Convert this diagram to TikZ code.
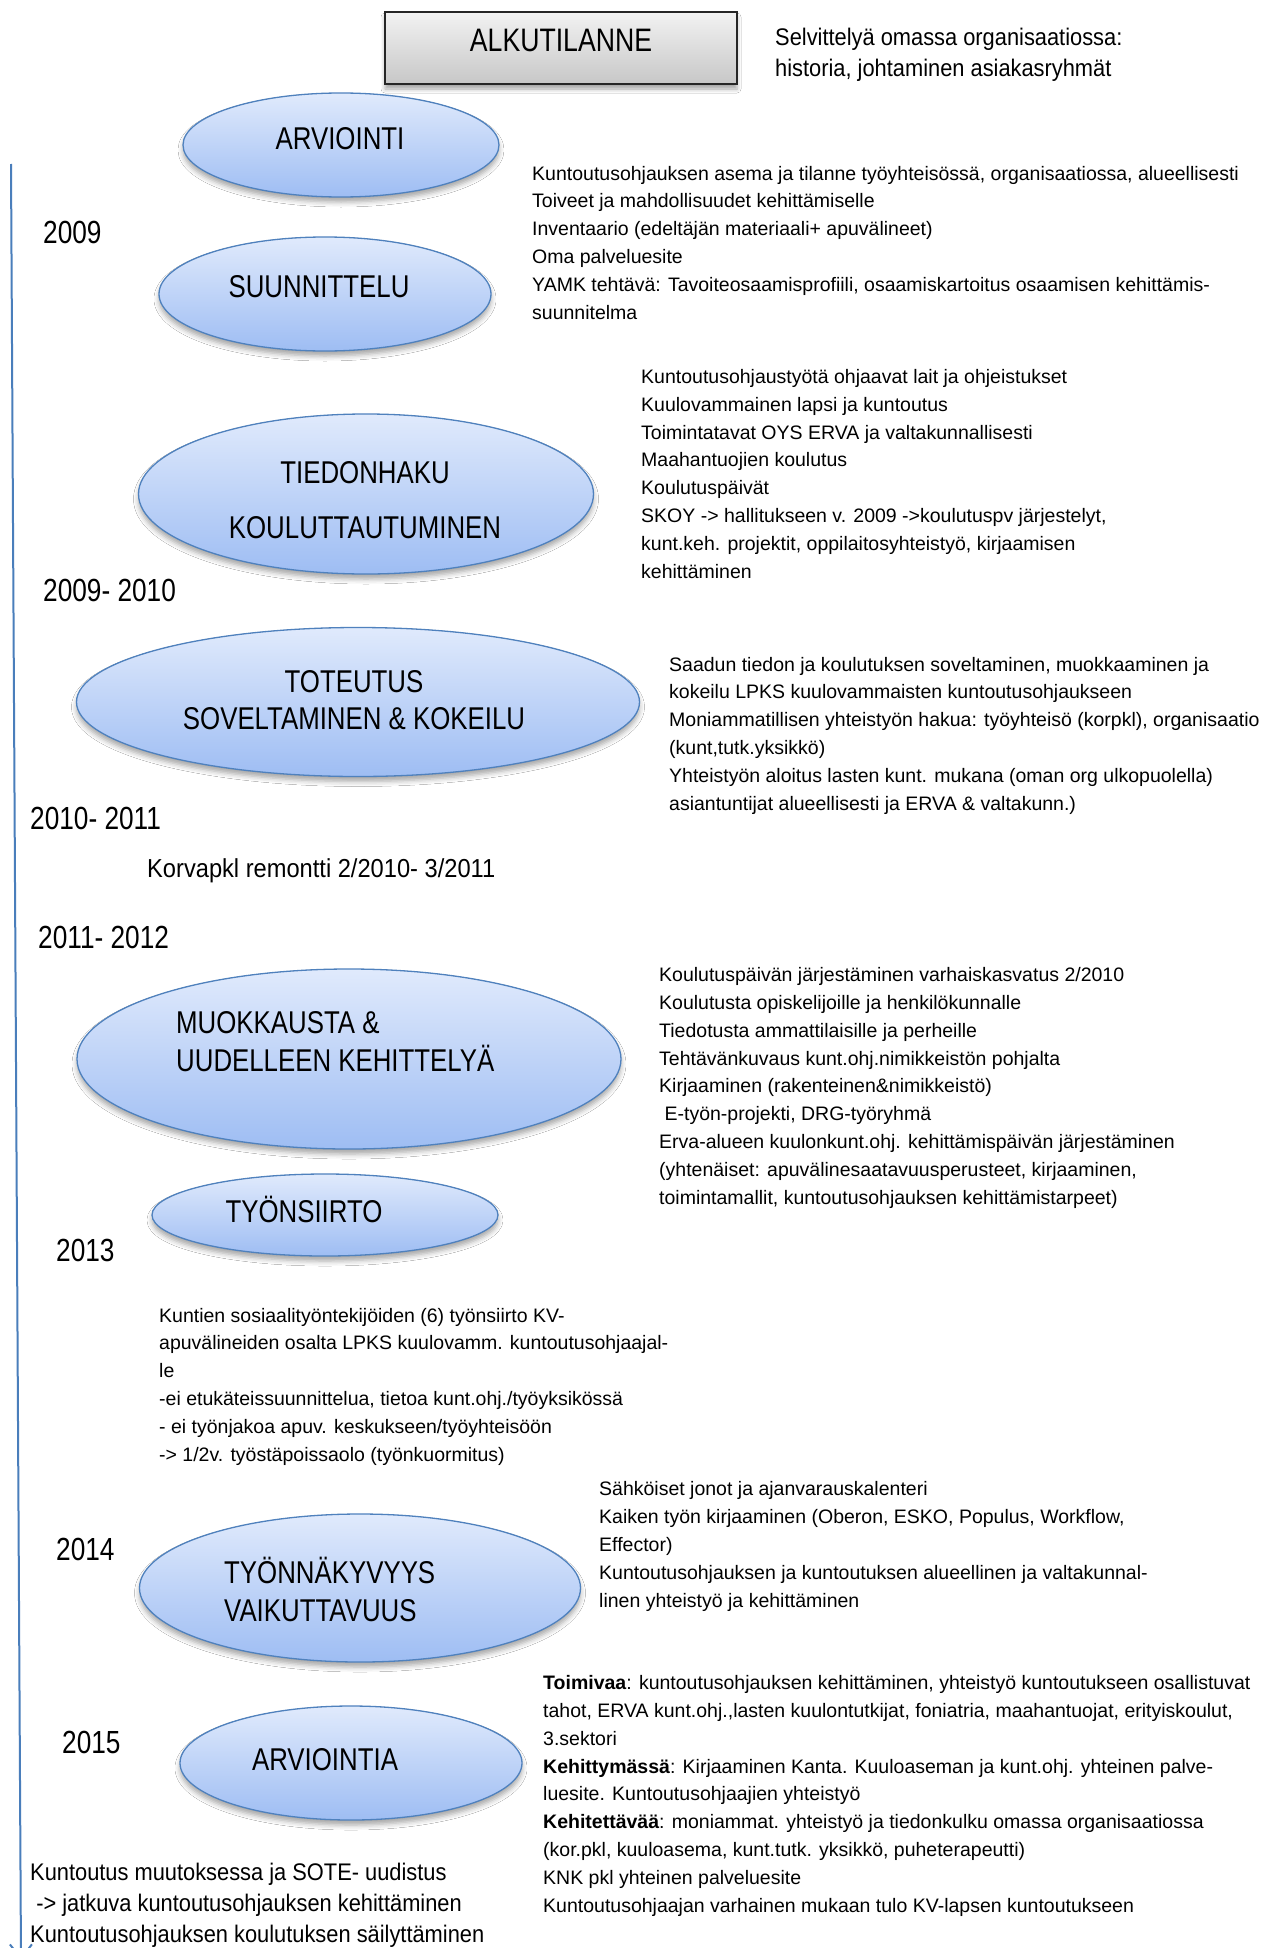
\documentclass[tikz,border=0pt]{standalone}
\usepackage{fontspec}
\setmainfont{Liberation Sans}
\newfontfamily\narrowfont{Liberation Sans}[FakeStretch=0.82]
\newfontfamily\halfnarrow{Liberation Sans}[FakeStretch=0.91]
\usetikzlibrary{shapes.geometric,shadows.blur,arrows.meta}
\definecolor{etop}{HTML}{E0EAFC}
\definecolor{ebot}{HTML}{9EBDF3}
\definecolor{ebord}{HTML}{4F81BD}
\definecolor{axisblue}{HTML}{4A7EBB}
\begin{document}
\begin{tikzpicture}[x=1pt,y=-1pt,
  phase/.style={shape=ellipse, draw=ebord, line width=1.3pt,
    top color=etop, bottom color=ebot, inner sep=0pt,
    blur shadow={shadow xshift=0pt, shadow yshift=-5pt,
      shadow blur radius=5pt, shadow opacity=35}},
  startbox/.style={draw=black!85, line width=2.4pt, top color=white!95!black,
    bottom color=black!22, inner sep=0pt,
    blur shadow={shadow xshift=0pt, shadow yshift=-5pt,
      shadow blur radius=4pt, shadow opacity=35}},
  ptext/.style={font=\narrowfont\fontsize{31.5}{37}\selectfont, inner sep=0pt, align=center},
  year/.style={font=\narrowfont\fontsize{32}{36}\selectfont, anchor=base west, inner sep=0pt},
  % multi-line blocks are placed by the baseline of their last line
  body/.style={font=\fontsize{19.5}{27.8}\selectfont, align=left,
    anchor=base west, inner sep=0pt},
  big/.style={font=\halfnarrow\fontsize{24}{31}\selectfont, align=left,
    anchor=base west, inner sep=0pt},
  axis/.style={draw=axisblue, line width=2pt}]

\fill[white] (0,0) rectangle (1278,1948);
\useasboundingbox (0,0) rectangle (1278,1948);

% time axis on the left
\coordinate (ltop) at (11,164);
\coordinate (lbot) at (21,1960);
\draw[axis, -{Straight Barb[length=14pt,width=22pt]}] (ltop) -- (lbot);

% starting point
\node[startbox, minimum width=352pt, minimum height=72pt] (start) at (561,48) {};
\node[font=\narrowfont\fontsize{32.5}{36}\selectfont, inner sep=0pt] (starttxt) at (561,40) {ALKUTILANNE};
\node[big] (startnote) at (775,77)
  {Selvittelyä omassa organisaatiossa:\\historia, johtaminen asiakasryhmät};

% phases
\node[phase, minimum width=316pt, minimum height=104pt] (e1) at (341,145) {};
\node[ptext] (t1) at (340,139) {ARVIOINTI};

\node[phase, minimum width=332pt, minimum height=114pt] (e2) at (325,294) {};
\node[ptext] (t2) at (319,287) {SUUNNITTELU};

\node[phase, minimum width=455pt, minimum height=160pt] (e3) at (366,494) {};
\node[ptext] (t3a) at (365,473) {TIEDONHAKU};
\node[ptext] (t3b) at (365,528) {KOULUTTAUTUMINEN};

\node[phase, minimum width=563pt, minimum height=149pt] (e4) at (358,702) {};
\node[ptext] (t4) at (354,700) {TOTEUTUS\\SOVELTAMINEN \& KOKEILU};

\node[phase, minimum width=544pt, minimum height=180pt] (e5) at (349,1059) {};
\node[ptext, align=left, anchor=west, font=\narrowfont\fontsize{31.5}{38}\selectfont] (t5) at (176,1042)
  {MUOKKAUSTA \&\\UUDELLEEN KEHITTELYÄ};

\node[phase, minimum width=346pt, minimum height=82pt] (e6) at (325,1215) {};
\node[ptext] (t6) at (304,1209) {TYÖNSIIRTO};

\node[phase, minimum width=441pt, minimum height=148pt] (e7) at (360,1588) {};
\node[ptext, align=left, anchor=west, font=\narrowfont\fontsize{31.5}{38}\selectfont] (t7) at (224,1589)
  {TYÖNNÄKYVYYS\\VAIKUTTAVUUS};

\node[phase, minimum width=342pt, minimum height=114pt] (e8) at (351,1763) {};
\node[ptext] (t8) at (325,1760) {ARVIOINTIA};

% years
\node[year] (y1) at (43,243) {2009};
\node[year] (y2) at (43,601) {2009- 2010};
\node[year] (y3) at (30,829) {2010- 2011};
\node[year] (y4) at (38,948) {2011- 2012};
\node[year] (y5) at (56,1261) {2013};
\node[year] (y6) at (56,1560) {2014};
\node[year] (y7) at (62,1753) {2015};

% descriptions
\node[body] (d1) at (532,319) {Kuntoutusohjauksen asema ja tilanne työyhteisössä, organisaatiossa, alueellisesti\\
Toiveet ja mahdollisuudet kehittämiselle\\
Inventaario (edeltäjän materiaali+ apuvälineet)\\
Oma palveluesite\\
YAMK tehtävä: Tavoiteosaamisprofiili, osaamiskartoitus osaamisen kehittämis-\\
suunnitelma};

\node[body] (d2) at (641,578) {Kuntoutusohjaustyötä ohjaavat lait ja ohjeistukset\\
Kuulovammainen lapsi ja kuntoutus\\
Toimintatavat OYS ERVA ja valtakunnallisesti\\
Maahantuojien koulutus\\
Koulutuspäivät\\
SKOY -> hallitukseen v. 2009 ->koulutuspv järjestelyt,\\
kunt.keh. projektit, oppilaitosyhteistyö, kirjaamisen\\
kehittäminen};

\node[body] (d3) at (669,810) {Saadun tiedon ja koulutuksen soveltaminen, muokkaaminen ja\\
kokeilu LPKS kuulovammaisten kuntoutusohjaukseen\\
Moniammatillisen yhteistyön hakua: työyhteisö (korpkl), organisaatio\\
(kunt,tutk.yksikkö)\\
Yhteistyön aloitus lasten kunt. mukana (oman org ulkopuolella)\\
asiantuntijat alueellisesti ja ERVA \& valtakunn.)};

\node[big, font=\halfnarrow\fontsize{26}{30}\selectfont] (remontti) at (147,877) {Korvapkl remontti 2/2010- 3/2011};

\node[body] (d4) at (659,1204) {Koulutuspäivän järjestäminen varhaiskasvatus 2/2010\\
Koulutusta opiskelijoille ja henkilökunnalle\\
Tiedotusta ammattilaisille ja perheille\\
Tehtävänkuvaus kunt.ohj.nimikkeistön pohjalta\\
Kirjaaminen (rakenteinen\&nimikkeistö)\\
\ E-työn-projekti, DRG-työryhmä\\
Erva-alueen kuulonkunt.ohj. kehittämispäivän järjestäminen\\
(yhtenäiset: apuvälinesaatavuusperusteet, kirjaaminen,\\
toimintamallit, kuntoutusohjauksen kehittämistarpeet)};

\node[body] (d5) at (159,1461) {Kuntien sosiaalityöntekijöiden (6) työnsiirto KV-\\
apuvälineiden osalta LPKS kuulovamm. kuntoutusohjaajal-\\
le\\
-ei etukäteissuunnittelua, tietoa kunt.ohj./työyksikössä\\
- ei työnjakoa apuv. keskukseen/työyhteisöön\\
-> 1/2v. työstäpoissaolo (työnkuormitus)};

\node[body] (d6) at (599,1607) {Sähköiset jonot ja ajanvarauskalenteri\\
Kaiken työn kirjaaminen (Oberon, ESKO, Populus, Workflow,\\
Effector)\\
Kuntoutusohjauksen ja kuntoutuksen alueellinen ja valtakunnal-\\
linen yhteistyö ja kehittäminen};

\node[body] (d7) at (543,1912) {\textbf{Toimivaa}: kuntoutusohjauksen kehittäminen, yhteistyö kuntoutukseen osallistuvat\\
tahot, ERVA kunt.ohj.,lasten kuulontutkijat, foniatria, maahantuojat, erityiskoulut,\\
3.sektori\\
\textbf{Kehittymässä}: Kirjaaminen Kanta. Kuuloaseman ja kunt.ohj. yhteinen palve-\\
luesite. Kuntoutusohjaajien yhteistyö\\
\textbf{Kehitettävää}: moniammat. yhteistyö ja tiedonkulku omassa organisaatiossa\\
(kor.pkl, kuuloasema, kunt.tutk. yksikkö, puheterapeutti)\\
KNK pkl yhteinen palveluesite\\
Kuntoutusohjaajan varhainen mukaan tulo KV-lapsen kuntoutukseen};

\node[big] (outlook) at (30,1942) {Kuntoutus muutoksessa ja SOTE- uudistus\\
\ -> jatkuva kuntoutusohjauksen kehittäminen\\
Kuntoutusohjauksen koulutuksen säilyttäminen};
\end{tikzpicture}
\end{document}
